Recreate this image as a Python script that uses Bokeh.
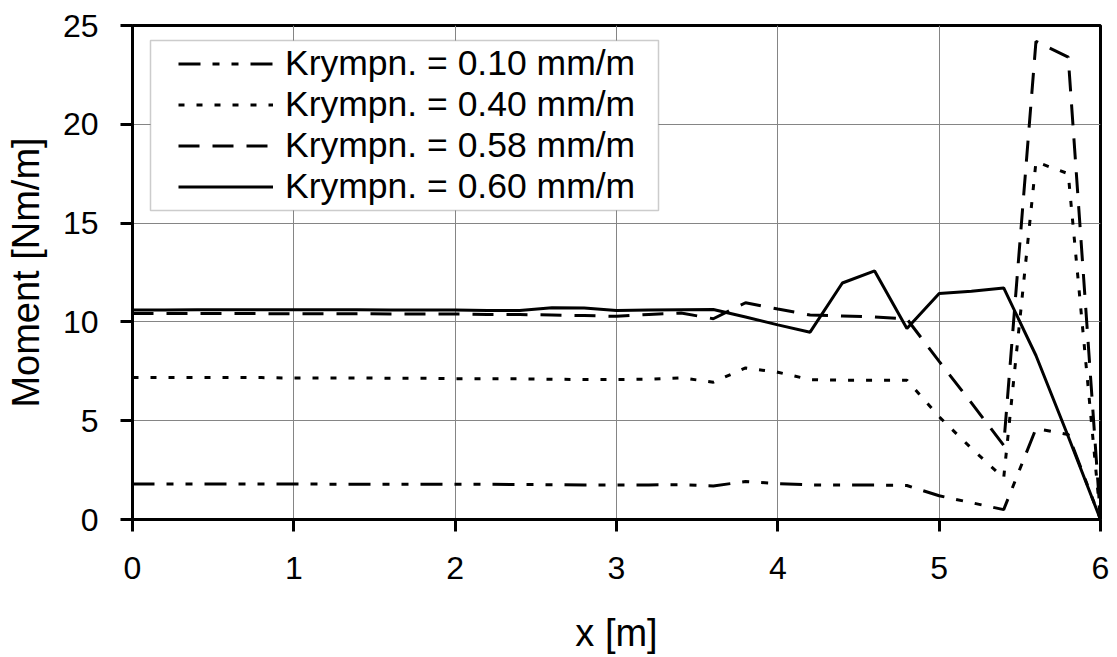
from bokeh.plotting import figure
from bokeh.models import FixedTicker, Range1d, Legend, LegendItem, BoxAnnotation
from bokeh.embed import file_html
from bokeh.resources import INLINE

x_m = [0.0, 0.2, 0.4, 0.6, 0.8, 1.0, 1.2, 1.4, 1.6, 1.8, 2.0, 2.2, 2.4, 2.6, 2.8, 3.0,
       3.2, 3.4, 3.6, 3.8, 4.0, 4.2, 4.4, 4.6, 4.8, 5.0, 5.2, 5.4, 5.6, 5.8, 6.0]

krymp_010 = [1.80, 1.80, 1.80, 1.80, 1.80, 1.80, 1.79, 1.79, 1.79, 1.79, 1.78, 1.78, 1.77, 1.76,
             1.75, 1.75, 1.75, 1.76, 1.70, 1.92, 1.82, 1.75, 1.74, 1.74, 1.72, 1.20, 0.85, 0.50,
             4.60, 4.30, 0.0]
krymp_040 = [7.18, 7.18, 7.18, 7.18, 7.18, 7.16, 7.16, 7.16, 7.15, 7.15, 7.12, 7.12, 7.12, 7.10,
             7.08, 7.08, 7.10, 7.17, 6.95, 7.67, 7.45, 7.08, 7.05, 7.05, 7.05, 5.20, 3.60, 2.10,
             18.1, 17.5, 0.0]
krymp_058 = [10.42, 10.42, 10.42, 10.42, 10.42, 10.41, 10.41, 10.41, 10.40, 10.40, 10.40, 10.38,
             10.37, 10.35, 10.32, 10.28, 10.38, 10.45, 10.16, 10.97, 10.65, 10.35, 10.30, 10.25,
             10.15, 8.00, 5.90, 3.75, 24.2, 23.4, 0.0]
krymp_060 = [10.60, 10.60, 10.61, 10.62, 10.62, 10.62, 10.62, 10.61, 10.60, 10.60, 10.60, 10.58,
             10.58, 10.72, 10.70, 10.58, 10.60, 10.62, 10.63, 10.25, 9.85, 9.48, 11.97, 12.58,
             9.67, 11.44, 11.55, 11.72, 8.30, 4.20, 0.0]

labels = ["Krympn. = 0.10 mm/m", "Krympn. = 0.40 mm/m",
          "Krympn. = 0.58 mm/m", "Krympn. = 0.60 mm/m"]
x_ticks = [0, 1, 2, 3, 4, 5, 6]
y_ticks = [0, 5, 10, 15, 20, 25]

FONT = "Liberation Sans"

p = figure(frame_width=968, frame_height=494, min_border_left=132, min_border_right=10,
           min_border_top=25, min_border_bottom=128,
           x_range=Range1d(0, 6), y_range=Range1d(0, 25),
           output_backend="svg", toolbar_location=None)

p.background_fill_color = "white"
p.border_fill_color = "white"
p.outline_line_color = "black"
p.outline_line_width = 3

for ax in (p.xaxis[0], p.yaxis[0]):
    ax.axis_line_width = 3
    ax.axis_line_color = "black"
    ax.major_tick_line_width = 3
    ax.major_tick_line_color = "black"
    ax.major_tick_out = 12
    ax.major_tick_in = 0
    ax.minor_tick_line_color = None
    ax.major_label_text_font = FONT
    ax.major_label_text_font_size = "32px"
    ax.major_label_text_color = "black"
    ax.axis_label_text_font = FONT
    ax.axis_label_text_font_size = "38px"
    ax.axis_label_text_font_style = "normal"
    ax.axis_label_text_color = "black"

p.xaxis[0].ticker = FixedTicker(ticks=x_ticks)
p.yaxis[0].ticker = FixedTicker(ticks=y_ticks)
p.xaxis[0].axis_label = "x [m]"
p.yaxis[0].axis_label = "Moment [Nm/m]"
p.xaxis[0].major_label_standoff = 25
p.yaxis[0].major_label_standoff = 22
p.xaxis[0].axis_label_standoff = 30
p.yaxis[0].axis_label_standoff = 13

p.grid.grid_line_color = "#858585"
p.grid.grid_line_width = 1
p.xgrid.ticker = FixedTicker(ticks=x_ticks)
p.ygrid.ticker = FixedTicker(ticks=y_ticks)

# legend frame (screen units measured from the frame's bottom-left corner)
frame_box = BoxAnnotation(left=18, right=526, bottom=309, top=479,
                          left_units="screen", right_units="screen",
                          bottom_units="screen", top_units="screen",
                          fill_color="white", fill_alpha=1.0,
                          line_color="#555555", line_width=1.5, level="annotation")
p.add_layout(frame_box)

series = [krymp_010, krymp_040, krymp_058, krymp_060]
dashes = ["22 12 7 12 7 12", "6 12", "21 13", "solid"]
items = []
for vals, dash, lab in zip(series, dashes, labels):
    r = p.line(x_m, vals, line_color="black", line_width=3, line_dash=dash)
    items.append(LegendItem(label=lab, renderers=[r]))

legend = Legend(items=items, location=(46, 312))
legend.margin = 0
legend.padding = 0
legend.spacing = 0
legend.glyph_width = 95
legend.glyph_height = 41
legend.label_height = 41
legend.label_standoff = 12
legend.label_text_font = FONT
legend.label_text_font_size = "35.5px"
legend.label_text_color = "black"
legend.border_line_color = None
legend.background_fill_alpha = 0.0
p.add_layout(legend)

open("out.html", "w").write(file_html(p, INLINE))
